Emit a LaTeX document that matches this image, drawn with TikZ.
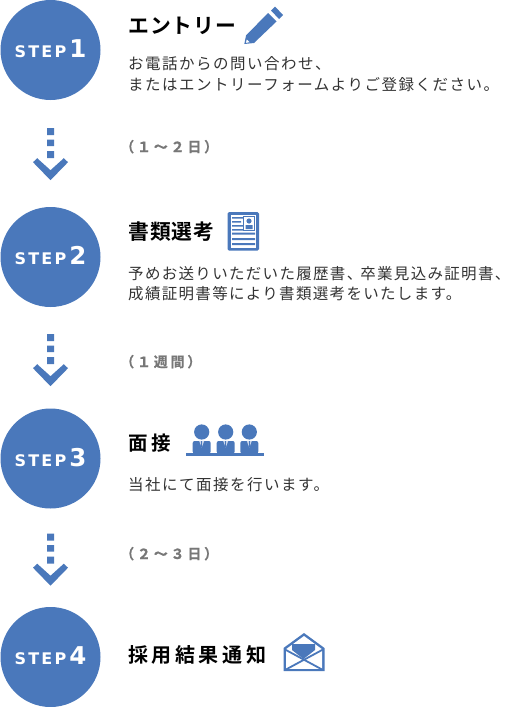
\documentclass[tikz,border=0pt]{standalone}
\usepackage{fontspec}
\setmainfont{Liberation Sans}
\newfontfamily\jpbody[LetterSpace=9.7]{Noto Sans CJK JP}
\newfontfamily\jpbodyb[LetterSpace=8.5]{Noto Sans CJK JP}
\newfontfamily\jpbold[LetterSpace=20,FakeBold=0.6]{Noto Sans CJK JP Bold}
\newfontfamily\jphead[LetterSpace=5]{Noto Sans CJK JP Bold}
\newfontfamily\jpheadw[LetterSpace=17]{Noto Sans CJK JP Bold}
\newfontfamily\jpheadx[LetterSpace=18]{Noto Sans CJK JP Bold}
\newfontfamily\latsteps[LetterSpace=14]{DejaVu Sans Bold}
\usetikzlibrary{calc}
\definecolor{stepblue}{HTML}{4A78BB}
\definecolor{bodyink}{HTML}{333333}
\definecolor{spangray}{HTML}{777777}
\tikzset{
 stepcircle/.style={circle,fill=stepblue,minimum size=100pt,inner sep=0pt,text=white,font=\latsteps\fontsize{16}{16}\selectfont},
 headtext/.style={anchor=base west,inner sep=0pt,text=black},
 bodytext/.style={anchor=north west,inner sep=0pt,text=bodyink,align=left,font=\jpbody\fontsize{15.5}{20.5}\selectfont},
 spantext/.style={anchor=base west,inner sep=0pt,text=spangray,font=\jpbold\fontsize{14}{14}\selectfont},
}
\newcommand{\flowarrow}[1]{%
 \begin{scope}[shift={(#1)}]
  \fill[stepblue] (-3.5,0) rectangle (3.5,7) (-3.5,11.5) rectangle (3.5,18) (-3.5,23) rectangle (3.5,30);
  \fill[stepblue] (-17.5,34) -- (-13.3,30) -- (0,42) -- (13.3,30) -- (17.5,34) -- (0,52) -- cycle;
 \end{scope}}
\newcommand{\stepnum}[1]{\raisebox{2.5pt}{{\fontsize{16}{16}\selectfont STEP}\hspace{3pt}{\fontsize{24.5}{24.5}\selectfont #1}}}
\newcommand{\person}[1]{%
 \begin{scope}[shift={(#1)}]
  \fill[stepblue] (0,8) circle (7.6);
  \fill[stepblue,rounded corners=2pt] (-9,29.5) -- (-9,17) -- (9,17) -- (9,29.5) -- cycle;
  \fill[white!70!stepblue] (-2.6,16.8) -- (2.6,16.8) -- (0,23.5) -- cycle;
  \fill[stepblue] (-0.7,17) rectangle (0.7,23);
 \end{scope}}
\begin{document}
\begin{tikzpicture}[x=1pt,y=-1pt]
\useasboundingbox (0,0) rectangle (509,707);
% circles
\node[stepcircle] (s1) at (50.5,50) {\stepnum{1}};
\node[stepcircle] (s2) at (50.5,257) {\stepnum{2}};
\node[stepcircle] (s3) at (50.5,458.5) {\stepnum{3}};
\node[stepcircle] (s4) at (50.5,657) {\stepnum{4}};
% arrows
\coordinate (a1) at ($(s1.south)+(0,28)$);
\coordinate (a2) at ($(s2.south)+(0,27)$);
\coordinate (a3) at ($(s3.south)+(0,25)$);
\flowarrow{a1}\flowarrow{a2}\flowarrow{a3}
% headings
\node[headtext,font=\jphead\fontsize{20.8}{22}\selectfont] (h1) at (128,33.5) {エントリー};
\node[headtext,font=\jphead\fontsize{20.8}{22}\selectfont] (h2) at (128,239.5) {書類選考};
\node[headtext,font=\jpheadw\fontsize{19.5}{22}\selectfont] (h3) at (128,450) {面\hspace{4pt}接};
\node[headtext,font=\jpheadx\fontsize{20}{22}\selectfont] (h4) at (128,662) {採用結果通知};
% body
\node[bodytext] (b1) at (128,56.5) {お電話からの問い合わせ、\\またはエントリーフォームよりご登録ください。};
\node[bodytext,font=\jpbodyb\fontsize{15.5}{20.5}\selectfont] (b2) at (128,266) {予めお送りいただいた履歴書、\hspace{-2pt}卒業見込み証明書、\\成績証明書等により書類選考をいたします。};
\node[bodytext] (b3) at (128,477) {当社にて面接を行います。};
% durations
\node[spantext] (d1) at (120,152) {（１～２日）};
\node[spantext] (d2) at (120,367) {（１週間）};
\node[spantext] (d3) at (120,559) {（２～３日）};
% pencil
\fill[stepblue] (244.3,44) -- (246,35.5) -- (268,13) -- (276.5,21.5) -- (254,43) -- cycle;
\fill[stepblue] (271,10.5) -- (275,6.5) -- (283,15) -- (279,19) -- cycle;
\fill[white] (246,42.8) -- (246.7,39.5) -- (249.7,42.2) -- cycle;
% document
\fill[stepblue,rounded corners=1.5pt] (227.7,212) rectangle (259,250.7);
\fill[white] (231,215) rectangle (255.7,247.5);
\fill[stepblue] (232,217) rectangle (243,218.7) (232,221) rectangle (241,222.7) (232,225) rectangle (243,226.7) (232,229) rectangle (243,230.5);
\draw[stepblue,line width=1pt] (243.5,216) rectangle (254.7,230.5);
\fill[stepblue] (249,221) circle (2.6) (245.5,229) -- (245.5,225) -- (252.5,225) -- (252.5,229) -- cycle;
\fill[stepblue] (232,232.7) rectangle (255,234.5) (232,238) rectangle (255,240) (232,243) rectangle (255,245);
% people
\person{201.7,424}\person{225.7,424}\person{249.3,424}
\fill[stepblue] (186,453.3) rectangle (263.5,456);
% envelope
\fill[stepblue] (283.5,648) -- (304,633) -- (324.5,648) -- (324.5,671) -- (283.5,671) -- cycle;
\fill[white] (286,649.2) -- (304,636) -- (322,649.2) -- (322,668.8) -- (286,668.8) -- cycle;
\fill[stepblue] (292,644) -- (315,644) -- (315,650) -- (303.5,659) -- (292,650) -- cycle;
\draw[stepblue,line width=1.8pt] (285,649.5) -- (323,670);
\draw[stepblue,line width=1.8pt] (323,649.5) -- (285,670);
\end{tikzpicture}
\end{document}
